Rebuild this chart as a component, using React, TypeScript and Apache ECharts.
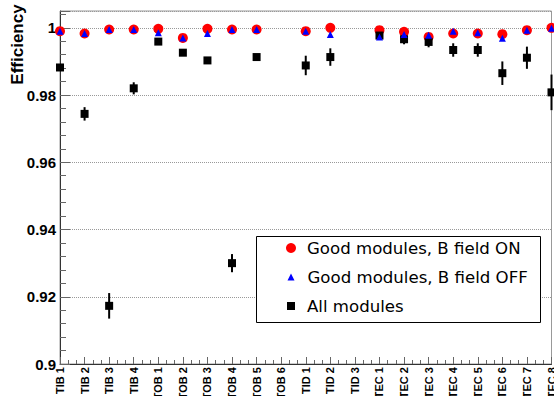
import React, { useEffect, useRef } from "react";
import * as echarts from "echarts";

const categories = [
  "TIB 1", "TIB 2", "TIB 3", "TIB 4",
  "TOB 1", "TOB 2", "TOB 3", "TOB 4", "TOB 5", "TOB 6",
  "TID 1", "TID 2", "TID 3",
  "TEC 1", "TEC 2", "TEC 3", "TEC 4", "TEC 5", "TEC 6", "TEC 7", "TEC 8",
];

const goodOn: (number | null)[] = [
  0.999, 0.9983, 0.9995, 0.9995,
  0.9997, 0.997, 0.9997, 0.9995, 0.9995, null,
  0.999, 1.0, null,
  0.9993, 0.9988, 0.9973, 0.9983, 0.9983, 0.9981, 0.9993, 1.0,
];

const goodOff: (number | null)[] = [
  0.999, 0.9983, 0.9995, 0.9995,
  0.9985, 0.997, 0.9983, 0.9995, 0.9995, null,
  0.999, 0.998, null,
  0.9973, 0.998, 0.9978, 0.999, 0.9985, 0.9969, 0.9993, 0.9999,
];

const allModules: (number | null)[] = [
  0.9882, 0.9744, 0.9173, 0.982,
  0.9959, 0.9926, 0.9903, 0.93, 0.9913, null,
  0.9888, 0.9913, null,
  0.9977, 0.9966, 0.9958, 0.9934, 0.9934, 0.9865, 0.9911, 0.9808,
];

const allModulesErr: (number | null)[] = [
  0.0008, 0.002, 0.0038, 0.0018,
  0.0003, 0.0003, 0.0003, 0.0027, 0.0003, null,
  0.0029, 0.0026, null,
  0.0005, 0.0015, 0.0016, 0.002, 0.002, 0.0035, 0.0033, 0.0053,
];

const seriesNames = ["Good modules, B field ON", "Good modules, B field OFF", "All modules"];

function pts(arr: (number | null)[]) {
  const out: number[][] = [];
  arr.forEach((v, i) => {
    if (v !== null) out.push([i, v]);
  });
  return out;
}

export default function App() {
  const ref = useRef<HTMLDivElement>(null);
  useEffect(() => {
    if (!ref.current) return;
    const chart = echarts.init(ref.current, undefined, { renderer: "svg" });
    const errData: number[][] = [];
    allModules.forEach((v, i) => {
      const e = allModulesErr[i];
      if (v !== null && e !== null) errData.push([i, v - e, v + e]);
    });
    const legendFont = { fontFamily: "DejaVu Sans", fontSize: 16.6, color: "#000", lineHeight: 18 };
    chart.setOption({
      animation: false,
      grid: {
        left: 60, right: 2.5, top: 11, bottom: 32,
        outerBoundsMode: "none", containLabel: false,
        show: true, borderColor: "#999", borderWidth: 1, backgroundColor: "#fff",
      },
      xAxis: {
        type: "value", min: 0, max: 20, interval: 1,
        axisLine: { show: true, onZero: false, lineStyle: { color: "#333", width: 1 } },
        axisTick: { show: true, inside: true, length: 7, lineStyle: { color: "#666" } },
        minorTick: { show: true, splitNumber: 3, length: 4, lineStyle: { color: "#666" } },
        splitLine: { show: false },
        axisLabel: {
          rotate: 90, margin: 3,
          fontFamily: "Liberation Sans", fontWeight: "bold", fontSize: 11, color: "#000",
          formatter: (v: number) => categories[Math.round(v)] ?? "",
          showMinLabel: true, showMaxLabel: true,
        },
      },
      yAxis: {
        type: "value", min: 0.9, max: 1.005, interval: 0.02,
        name: "Efficiency",
        nameLocation: "end",
        nameRotate: 90,
        nameGap: -6,
        nameTextStyle: {
          fontFamily: "Liberation Sans", fontWeight: "bold", fontSize: 17, color: "#000",
          align: "right", verticalAlign: "bottom", padding: [0, 0, 34, 0],
        },
        axisLine: { show: true, onZero: false, lineStyle: { color: "#333", width: 1 } },
        axisTick: { show: true, inside: true, length: 10, lineStyle: { color: "#666" } },
        minorTick: { show: true, splitNumber: 5, length: 6, lineStyle: { color: "#666" } },
        splitLine: { show: true, lineStyle: { type: "dotted", color: "#999", width: 1 } },
        axisLabel: {
          margin: 4,
          fontFamily: "Liberation Sans", fontWeight: "bold", fontSize: 15, color: "#000",
          showMaxLabel: false,
          formatter: (v: number) => (v > 1.0001 ? "" : String(Number(v.toFixed(2)))),
        },
      },
      graphic: [
        {
          type: "rect", z: 100,
          shape: { x: 256.5, y: 236.5, width: 284, height: 86 },
          style: { fill: "#fff", stroke: "#000", lineWidth: 1 },
        },
      ],
      legend: [
        {
          data: [{ name: seriesNames[0], icon: "circle" }],
          left: 286, top: 239, itemWidth: 10, itemHeight: 10, padding: 0, z: 110,
          textStyle: { ...legendFont, padding: [0, 0, 0, 6] },
          selectedMode: false,
        },
        {
          data: [{ name: seriesNames[1], icon: "triangle" }],
          left: 287.5, top: 268, itemWidth: 7, itemHeight: 7, padding: 0, z: 110,
          textStyle: { ...legendFont, padding: [0, 0, 0, 8] },
          selectedMode: false,
        },
        {
          data: [{ name: seriesNames[2], icon: "rect" }],
          left: 287, top: 297, itemWidth: 8, itemHeight: 8, padding: 0, z: 110,
          textStyle: { ...legendFont, padding: [0, 0, 0, 7] },
          selectedMode: false,
        },
      ],
      series: [
        {
          name: seriesNames[0], type: "scatter", symbol: "circle", symbolSize: 10,
          itemStyle: { color: "#ff0000", opacity: 1 }, clip: false, z: 2,
          data: pts(goodOn),
        },
        {
          name: "errbars", type: "custom", clip: false, z: 3,
          renderItem: (_p: any, api: any) => {
            const x = api.value(0);
            const a = api.coord([x, api.value(1)]);
            const b = api.coord([x, api.value(2)]);
            return {
              type: "line",
              shape: { x1: a[0], y1: a[1], x2: b[0], y2: b[1] },
              style: { stroke: "#000", lineWidth: 2 },
            };
          },
          encode: { x: 0, y: [1, 2] },
          data: errData,
        },
        {
          name: seriesNames[2], type: "scatter", symbol: "rect", symbolSize: 8,
          itemStyle: { color: "#000", opacity: 1 }, clip: false, z: 4,
          data: pts(allModules),
        },
        {
          name: seriesNames[1], type: "scatter", symbol: "triangle", symbolSize: 7,
          itemStyle: { color: "#0000ff", opacity: 1 }, clip: false, z: 5,
          data: pts(goodOff),
        },
      ],
    });
    return () => chart.dispose();
  }, []);
  return (
    <div
      ref={ref}
      style={{ position: "fixed", left: 0, top: 0, width: 554, height: 396, background: "#fff" }}
    />
  );
}
